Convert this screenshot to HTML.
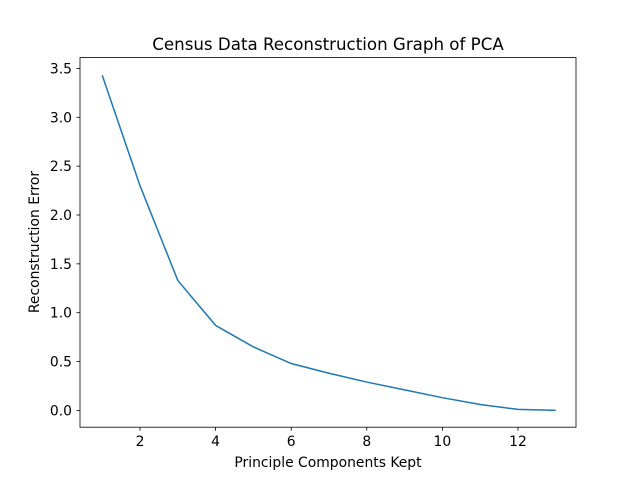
<!DOCTYPE html>
<html><head><meta charset="utf-8"><style>body{margin:0;background:#fff}svg{display:block}text{font-family:"DejaVu Sans","Liberation Sans",sans-serif;fill:#000}</style></head>
<body>
<svg id="chart" width="640" height="480">
<rect x="0" y="0" width="640" height="480" fill="#fff"/>
<text x="328" y="50" font-size="16.67" text-anchor="middle">Census Data Reconstruction Graph of PCA</text>
<text x="328" y="467" font-size="13.9" text-anchor="middle">Principle Components Kept</text>
<text transform="translate(39,242) rotate(-90)" font-size="13.9" text-anchor="middle">Reconstruction Error</text>
<g id="ticks"></g>
<path id="line" fill="none" stroke="#1f77b4" stroke-width="1.5"/>
<rect x="80" y="57.6" width="496" height="369.6" fill="none" stroke="#000" stroke-width="0.8"/>
</svg>
<script>
const components = [1,2,3,4,5,6,7,8,9,10,11,12,13];
const errors = [3.43,2.30,1.33,0.87,0.65,0.48,0.38,0.29,0.21,0.13,0.06,0.01,0.00];
const xTicks = [2,4,6,8,10,12];
const yTicks = [0.0,0.5,1.0,1.5,2.0,2.5,3.0,3.5];
function xs(v){return 102.2+(v-1)*37.8;}
function ys(v){return 410.4-v*97.7;}
const ns="http://www.w3.org/2000/svg";
const g=document.getElementById('ticks');
xTicks.forEach(t=>{
  const l=document.createElementNS(ns,'line');
  l.setAttribute('x1',xs(t));l.setAttribute('x2',xs(t));l.setAttribute('y1',427.2);l.setAttribute('y2',430.7);l.setAttribute('stroke','#000');l.setAttribute('stroke-width','0.8');
  
  
  g.appendChild(l);
  const tx=document.createElementNS(ns,'text');
  tx.setAttribute('x',xs(t));tx.setAttribute('y',446);tx.setAttribute('font-size','13.9');tx.setAttribute('text-anchor','middle');tx.textContent=t;
  
  
  g.appendChild(tx);
});
yTicks.forEach(t=>{
  const l=document.createElementNS(ns,'line');
  l.setAttribute('x1',76.5);l.setAttribute('x2',80);l.setAttribute('y1',ys(t));l.setAttribute('y2',ys(t));l.setAttribute('stroke','#000');l.setAttribute('stroke-width','0.8');
  
  
  g.appendChild(l);
  const tx=document.createElementNS(ns,'text');
  tx.setAttribute('x',72);tx.setAttribute('y',ys(t)+5);tx.setAttribute('font-size','13.9');tx.setAttribute('text-anchor','end');tx.textContent=t.toFixed(1);
  
  
  g.appendChild(tx);
});
document.getElementById('line').setAttribute('d',components.map((c,i)=>(i?'L':'M')+xs(c)+','+ys(errors[i])).join(' '));
</script>
</body></html>
